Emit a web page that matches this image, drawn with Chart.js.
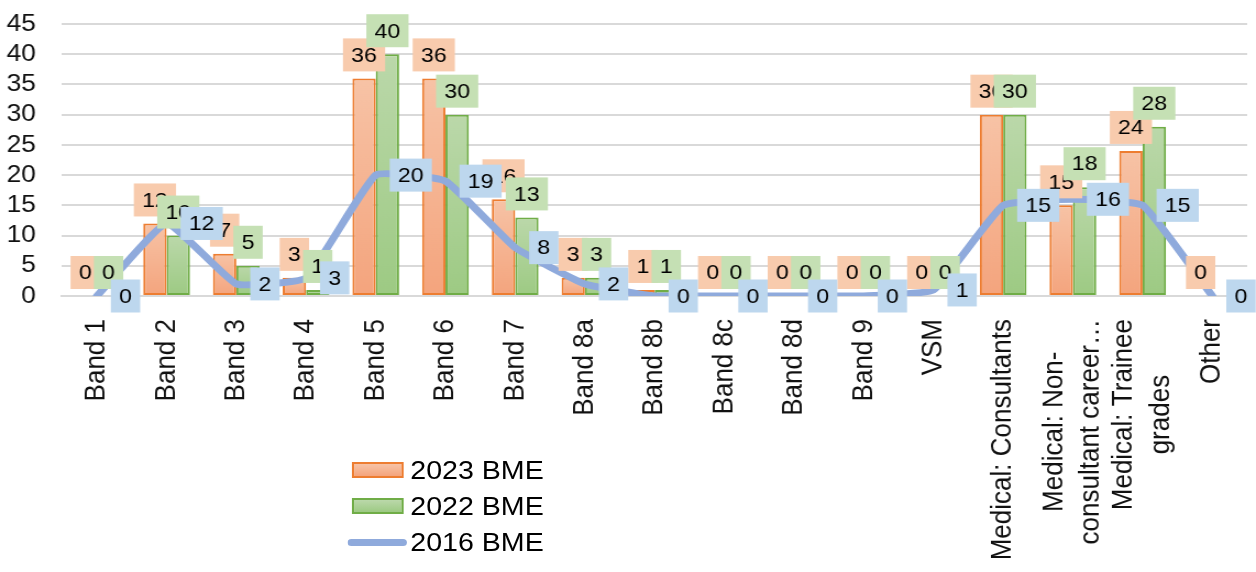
<!DOCTYPE html>
<html>
<head>
<meta charset="utf-8">
<script src="https://cdn.jsdelivr.net/npm/chart.js@4/dist/chart.umd.min.js"></script>
<style>
  html, body { margin: 0; padding: 0; background: #fff; overflow: hidden; }
  #wrap { position: relative; width: 1142px; height: 572px; transform: scaleX(1.0998); transform-origin: 0 0; }
  #chart { display: block; }
  #legend { position: absolute; left: 316px; top: 452px; font: 26px Arial, "Liberation Sans", sans-serif; color: #000; }
  .item { display: flex; align-items: center; height: 36px; white-space: nowrap; }
  .sw { width: 47px; height: 16px; box-sizing: border-box; margin-left: 4px; margin-right: 6px; border: 2px solid; }
  .ln { width: 54px; height: 7px; border-radius: 4px; background: #8FAADC; margin-right: 3px; }
</style>
</head>
<body>
<div id="wrap">
  <canvas id="chart" width="1142" height="572"></canvas>
  <div id="legend"></div>
</div>
<script>
// Staff groups along the x axis
const categories = [
  'Band 1', 'Band 2', 'Band 3', 'Band 4', 'Band 5', 'Band 6', 'Band 7',
  'Band 8a', 'Band 8b', 'Band 8c', 'Band 8d', 'Band 9', 'VSM',
  'Medical: Consultants',
  ['Medical: Non-', 'consultant career…'],
  ['Medical: Trainee', 'grades'],
  'Other'
];

// BME headcount per group
const bme2023 = [0, 12, 7, 3, 36, 36, 16, 3, 1, 0, 0, 0, 0, 30, 15, 24, 0];
const bme2022 = [0, 10, 5, 1, 40, 30, 13, 3, 1, 0, 0, 0, 0, 30, 18, 28, null];
const bme2016 = [0, 12, 2, 3, 20, 19, 8, 2, 0, 0, 0, 0, 1, 15, 16, 15, 0];

// Value axis ticks
const yTicks = [0, 5, 10, 15, 20, 25, 30, 35, 40, 45];

const FONT = 'Arial, "Liberation Sans", sans-serif';

const seriesStyle = [
  { label: '2023 BME', border: '#ED7D31', top: '#F7C3A6', bottom: '#F4A47D', tag: '#F8CBAD' },
  { label: '2022 BME', border: '#70AD47', top: '#BBD8AA', bottom: '#9DCA83', tag: '#C5E0B4' },
  { label: '2016 BME', border: '#8FAADC', tag: '#BDD7EE' }
];

// vertical gradient per bar, light at the top, deeper at the base
function barFill(style) {
  return (ctx) => {
    if (ctx.type !== 'data') return style.bottom;
    const y = ctx.chart.scales.y;
    const v = ctx.raw;
    if (!y || v == null) return style.bottom;
    const top = y.getPixelForValue(v);
    const base = y.getPixelForValue(0);
    if (!isFinite(top) || !isFinite(base) || base - top < 1) return style.bottom;
    const g = ctx.chart.ctx.createLinearGradient(0, top, 0, base);
    g.addColorStop(0, style.top);
    g.addColorStop(1, style.bottom);
    return g;
  };
}

// value tags: bars get a tag above, the line gets a tag to the right of each point
const valueTags = {
  id: 'valueTags',
  afterDatasetsDraw(chart) {
    const ctx = chart.ctx;
    ctx.save();
    ctx.font = '21px ' + FONT;
    ctx.textAlign = 'center';
    ctx.textBaseline = 'middle';
    const h = 33;
    chart.data.datasets.forEach((ds, di) => {
      const meta = chart.getDatasetMeta(di);
      meta.data.forEach((el, i) => {
        const v = ds.data[i];
        if (v == null) return;
        const text = String(v);
        const w = ctx.measureText(text).width + 15;
        let cx, cy;
        if (ds.type === 'bar') {
          cx = el.x;
          cy = el.y - 7 - h / 2;
        } else {
          cx = el.x + 12.7 + w / 2;
          cy = el.y;
        }
        ctx.fillStyle = seriesStyle[di].tag;
        ctx.fillRect(cx - w / 2, cy - h / 2, w, h);
        ctx.fillStyle = '#000';
        ctx.fillText(text, cx, cy + 1);
      });
    });
    ctx.restore();
  }
};

// two-line category labels: centre the lines on the tick and on each other
const centredLabels = {
  id: 'centredLabels',
  beforeDraw(chart) {
    const xs = chart.scales.x;
    const items = xs.getLabelItems();
    if (items._centred) return;
    const ctx = chart.ctx;
    const f = xs.options.ticks.font;
    ctx.save();
    ctx.font = f.size + 'px ' + FONT;
    const lh = f.size * f.lineHeight;
    items.forEach(it => {
      if (!Array.isArray(it.label) || it.label.length < 2) return;
      const n = it.label.length;
      const maxW = Math.max(...it.label.map(s => ctx.measureText(s).width));
      it.options.translation[0] -= (n - 1) * lh / 2;
      it.options.translation[1] += maxW / 2;
      it.options.textAlign = 'center';
    });
    ctx.restore();
    items._centred = true;
  }
};

new Chart(document.getElementById('chart'), {
  data: {
    labels: categories,
    datasets: [
      {
        type: 'bar', label: seriesStyle[0].label, data: bme2023, order: 1,
        backgroundColor: barFill(seriesStyle[0]), borderColor: seriesStyle[0].border,
        borderWidth: 2, borderSkipped: false, categoryPercentage: 0.67, barPercentage: 1
      },
      {
        type: 'bar', label: seriesStyle[1].label, data: bme2022, order: 2,
        backgroundColor: barFill(seriesStyle[1]), borderColor: seriesStyle[1].border,
        borderWidth: 2, borderSkipped: false, categoryPercentage: 0.67, barPercentage: 1
      },
      {
        type: 'line', label: seriesStyle[2].label, data: bme2016, order: 0,
        borderColor: seriesStyle[2].border, borderWidth: 7, tension: 0.12,
        pointRadius: 0, borderCapStyle: 'round', borderJoinStyle: 'round', fill: false
      }
    ]
  },
  options: {
    responsive: false,
    animation: false,
    devicePixelRatio: 1,
    layout: { padding: { left: 0, right: 8, top: 24, bottom: 0 } },
    plugins: { legend: { display: false }, tooltip: { enabled: false } },
    scales: {
      x: {
        grid: { display: false },
        border: { display: true, color: '#D9D9D9', width: 2 },
        ticks: {
          autoSkip: false, minRotation: 90, maxRotation: 90, padding: 15,
          color: '#111', font: { family: FONT, size: 26, lineHeight: 1.28 }
        },
        afterFit(s) { s.height = 276; s.paddingLeft = 0; s.paddingRight = 0; }
      },
      y: {
        min: 0, max: 45,
        afterBuildTicks(s) { s.ticks = yTicks.map(v => ({ value: v })); },
        grid: { color: '#D9D9D9', lineWidth: 2, drawTicks: false },
        border: { display: false },
        ticks: { autoSkip: false, padding: 23.7, color: '#111', font: { family: FONT, size: 24 } },
        afterFit(s) { s.width = 56.4; s.paddingTop = 0; s.paddingBottom = 0; }
      }
    }
  },
  plugins: [valueTags, centredLabels]
});

// legend, stacked in one column
const legend = document.getElementById('legend');
seriesStyle.forEach((s, i) => {
  const row = document.createElement('div');
  row.className = 'item';
  const mark = document.createElement('span');
  if (i < 2) {
    mark.className = 'sw';
    mark.style.borderColor = s.border;
    mark.style.background = `linear-gradient(${s.top}, ${s.bottom})`;
  } else {
    mark.className = 'ln';
  }
  row.appendChild(mark);
  row.appendChild(document.createTextNode(s.label));
  legend.appendChild(row);
});
</script>
</body>
</html>
